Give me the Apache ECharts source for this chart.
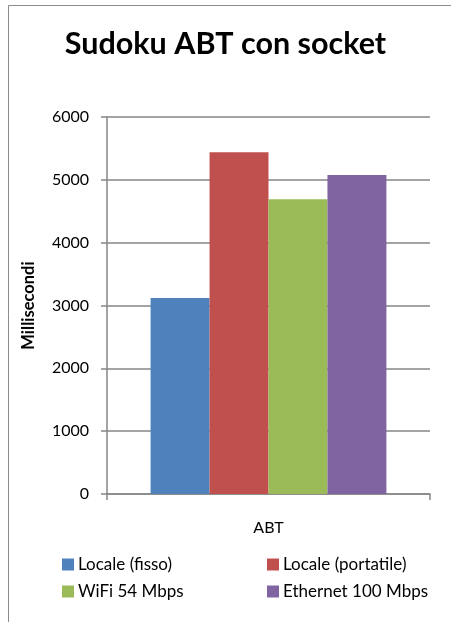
<!DOCTYPE html>
<html>
<head>
<meta charset="utf-8">
<script src="https://cdn.jsdelivr.net/npm/echarts@6/dist/echarts.min.js"></script>
<style>
  html, body { margin: 0; padding: 0; background: #fff; }
  #chart { width: 451px; height: 622px; }
</style>
</head>
<body>
<div id="chart"></div>
<script>
// Tempi medi di esecuzione (ms) per configurazione
const categories = ['ABT'];
const seriesNames = ['Locale (fisso)', 'Locale (portatile)', 'WiFi 54 Mbps', 'Ethernet 100 Mbps'];
const seriesValues = [[3120], [5440], [4690], [5075]];
const seriesColors = ['#4F81BD', '#C0504D', '#9BBB59', '#8064A2'];
const yTicks = [0, 1000, 2000, 3000, 4000, 5000, 6000];

const FONT = 'Lato, "Open Sans", sans-serif';
const chart = echarts.init(document.getElementById('chart'), null, { renderer: 'canvas' });

const legendText = { fontFamily: FONT, fontSize: 17, lineHeight: 17, color: '#000', padding: [0, 0, 0, -1] };

chart.setOption({
  animation: false,
  backgroundColor: '#fff',
  title: {
    text: 'Sudoku ABT con socket',
    left: 'center',
    top: 24,
    textStyle: { fontFamily: FONT, fontWeight: 'bold', fontSize: 30.5, color: '#000' }
  },
  graphic: [{
    type: 'rect',
    shape: { x: 8.5, y: 5.5, width: 460, height: 640 },
    style: { fill: null, stroke: '#8c8c8c', lineWidth: 1 },
    silent: true
  }],
  legend: [
    {
      data: [seriesNames[0], seriesNames[2]],
      orient: 'vertical',
      left: 57, top: 551,
      itemWidth: 12, itemHeight: 12, itemGap: 10,
      icon: 'rect',
      textStyle: legendText
    },
    {
      data: [seriesNames[1], seriesNames[3]],
      orient: 'vertical',
      left: 262, top: 551,
      itemWidth: 12, itemHeight: 12, itemGap: 10,
      icon: 'rect',
      textStyle: legendText
    }
  ],
  grid: { left: 107, top: 117, width: 323, height: 377, containLabel: false },
  xAxis: {
    type: 'category',
    data: categories,
    axisLine: { lineStyle: { color: '#868686', width: 1.5 } },
    axisTick: { show: true, length: 6, lineStyle: { color: '#868686', width: 1.5 } },
    axisLabel: { margin: 26, fontFamily: FONT, fontSize: 16, color: '#000' }
  },
  yAxis: {
    type: 'value',
    min: yTicks[0],
    max: yTicks[yTicks.length - 1],
    interval: 1000,
    name: 'Millisecondi',
    nameLocation: 'middle',
    nameGap: 70,
    nameRotate: 90,
    nameTextStyle: { fontFamily: FONT, fontWeight: 'bold', fontSize: 16.5, color: '#000' },
    axisLine: { show: true, lineStyle: { color: '#868686', width: 1.5 } },
    axisTick: { show: true, length: 6, lineStyle: { color: '#868686', width: 1.5 } },
    axisLabel: {
      margin: 18, fontFamily: FONT, fontSize: 16, color: '#000',
      formatter: (v) => String(v)
    },
    splitLine: { show: true, lineStyle: { color: '#868686', width: 1.5 } }
  },
  series: seriesNames.map((name, i) => ({
    name,
    type: 'bar',
    data: seriesValues[i],
    barGap: '0%',
    barCategoryGap: '27%',
    itemStyle: { color: seriesColors[i] }
  }))
});
</script>
</body>
</html>
